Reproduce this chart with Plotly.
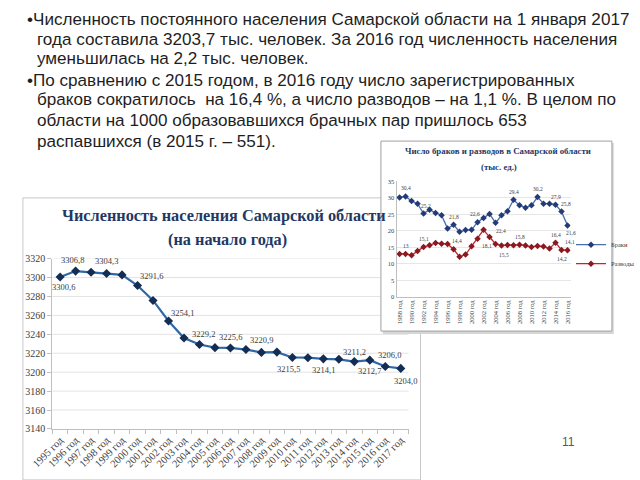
import plotly.graph_objects as go

W, H = 640, 480


def fx(p):
    return p / W


def fy(p):
    return 1 - p / H


# ---------------- data ----------------
pop_years = ["1995 год", "1996 год", "1997 год", "1998 год", "1999 год", "2000 год",
             "2001 год", "2002 год", "2003 год", "2004 год", "2005 год", "2006 год",
             "2007 год", "2008 год", "2009 год", "2010 год", "2011 год", "2012 год",
             "2013 год", "2014 год", "2015 год", "2016 год", "2017 год"]
population = [3300.6, 3306.8, 3305.5, 3304.3, 3302.8, 3291.6, 3275.8, 3254.1, 3236.1,
              3229.2, 3225.9, 3225.6, 3223.9, 3220.9, 3221.2, 3215.5, 3215.3, 3214.1,
              3213.6, 3211.2, 3212.7, 3206.0, 3204.0]
pop_ticks = [3140, 3160, 3180, 3200, 3220, 3240, 3260, 3280, 3300, 3320]
# index -> (xshift, yshift) for shown data labels
pop_labels = {0: (3, -10), 1: (-3, 11), 3: (0, 12), 5: (14, 9), 7: (14, 8), 9: (4, 11),
              11: (0, 11), 13: (0, 12), 15: (-4, -11), 17: (0, -11), 19: (0, 10),
              20: (0, -11), 21: (4, 12), 22: (5, -13)}

mar_years = ["1988 год", "1989 год", "1990 год", "1991 год", "1992 год", "1993 год",
             "1994 год", "1995 год", "1996 год", "1997 год", "1998 год", "1999 год",
             "2000 год", "2001 год", "2002 год", "2003 год", "2004 год", "2005 год",
             "2006 год", "2007 год", "2008 год", "2009 год", "2010 год", "2011 год",
             "2012 год", "2013 год", "2014 год", "2015 год", "2016 год"]
marriages = [30.1, 30.4, 29.0, 28.2, 25.2, 26.4, 25.4, 24.7, 20.7, 21.8, 19.7, 20.2,
             20.3, 22.6, 23.9, 25.1, 22.4, 24.7, 25.9, 29.4, 27.7, 27.0, 27.7, 30.2,
             28.2, 28.2, 27.9, 25.8, 21.6]
divorces = [13.0, 13.0, 12.6, 13.9, 15.1, 15.6, 16.3, 16.1, 16.0, 14.4, 12.1, 12.8,
            15.3, 17.6, 20.3, 18.1, 16.0, 15.5, 15.7, 15.6, 15.8, 15.5, 15.1, 15.4,
            15.2, 14.6, 16.4, 14.2, 14.1]
mar_ticks = [0, 5, 10, 15, 20, 25, 30, 35]
mar_labels = {1: (0, 8), 4: (2, 8), 9: (0, 8), 13: (-3, 8), 16: (5, -8), 19: (0, 8),
              23: (0, 8), 26: (0, 8), 27: (4, 8), 28: (3, -8)}
div_labels = {1: (0, 8), 4: (0, 8), 9: (3, 8), 15: (-3, -9), 17: (2, -9), 20: (0, 8),
              26: (0, 8), 27: (0, -9), 28: (2, 8)}

slide_lines = [
    ("•Численность постоянного населения Самарской области на 1 января 2017", 3, 15),
    ("года составила 3203,7 тыс. человек. За 2016 год численность населения", 14, 35),
    ("уменьшилась на 2,2 тыс. человек.", 14, 55),
    ("•По сравнению с 2015 годом, в 2016 году число зарегистрированных", 3, 77),
    ("браков сократилось \u00a0на 16,4 %, а число разводов – на 1,1 %. В целом по", 14, 97),
    ("области на 1000 образовавшихся брачных пар пришлось 653", 14, 118),
    ("распавшихся (в 2015 г. – 551).", 14, 139),
]


def fmt(v):
    if abs(v - round(v)) < 1e-9 and v < 20:
        return str(int(round(v)))
    return f"{v:.1f}".replace(".", ",")


SERIF = "Liberation Serif, Times New Roman, serif"
SANS = "Liberation Sans, Arial, sans-serif"
NAVY = "#1f3864"
TXT = "#404040"

fig = go.Figure()

fig.add_trace(go.Scatter(
    x=pop_years, y=population, mode="lines+markers", xaxis="x", yaxis="y",
    line=dict(color="#2f68a6", width=2.2),
    marker=dict(symbol="diamond", size=7, color="#132d55"),
    showlegend=False, hoverinfo="skip"))

fig.add_trace(go.Scatter(
    x=mar_years, y=marriages, mode="lines+markers", xaxis="x2", yaxis="y2",
    name="Браки", line=dict(color="#4a6dab", width=1.3),
    marker=dict(symbol="diamond", size=5, color="#233b77"), hoverinfo="skip"))
fig.add_trace(go.Scatter(
    x=mar_years, y=divorces, mode="lines+markers", xaxis="x2", yaxis="y2",
    name="Разводы", line=dict(color="#c3262c", width=1.3),
    marker=dict(symbol="diamond", size=5, color="#8a1a20"), hoverinfo="skip"))

ann = []
for i, (dx, dy) in pop_labels.items():
    ann.append(dict(x=pop_years[i], y=population[i], xref="x", yref="y",
                    text=fmt(population[i]), showarrow=False, xshift=dx, yshift=dy,
                    font=dict(family=SERIF, size=8.5, color=TXT)))
for i, (dx, dy) in mar_labels.items():
    ann.append(dict(x=mar_years[i], y=marriages[i], xref="x2", yref="y2",
                    text=fmt(marriages[i]), showarrow=False, xshift=dx, yshift=dy,
                    font=dict(family=SERIF, size=5.5, color=TXT)))
for i, (dx, dy) in div_labels.items():
    ann.append(dict(x=mar_years[i], y=divorces[i], xref="x2", yref="y2",
                    text=fmt(divorces[i]), showarrow=False, xshift=dx, yshift=dy,
                    font=dict(family=SERIF, size=5.5, color=TXT)))

for text, x, y in slide_lines:
    ann.append(dict(x=fx(x), y=fy(y), xref="paper", yref="paper", text=text,
                    showarrow=False, xanchor="left", yanchor="middle",
                    font=dict(family=SANS, size=17.1, color="#1e1e1e")))

ann.append(dict(x=fx(220), y=fy(215), xref="paper", yref="paper",
                text="<b>Численность населения Самарской области</b>", showarrow=False,
                xanchor="center", yanchor="middle", font=dict(family=SERIF, size=16.3, color=NAVY)))
ann.append(dict(x=fx(223), y=fy(239), xref="paper", yref="paper",
                text="<b>(на начало года)</b>", showarrow=False,
                xanchor="center", yanchor="middle", font=dict(family=SERIF, size=16.3, color=NAVY)))
ann.append(dict(x=fx(517), y=fy(149), xref="paper", yref="paper",
                text="<b>Число браков и разводов в Самарской области</b>", showarrow=False,
                xanchor="center", yanchor="middle", font=dict(family=SERIF, size=8.8, color=NAVY)))
ann.append(dict(x=fx(518), y=fy(165), xref="paper", yref="paper",
                text="<b>(тыс. ед.)</b>", showarrow=False,
                xanchor="center", yanchor="middle", font=dict(family=SERIF, size=8.8, color=NAVY)))
ann.append(dict(x=fx(594), y=fy(446), xref="paper", yref="paper", text="11",
                showarrow=False, xanchor="center", yanchor="middle",
                font=dict(family=SANS, size=12, color="#595959")))

shapes = []
# main chart frame
shapes.append(dict(type="rect", xref="paper", yref="paper", x0=fx(1), x1=fx(433),
                   y0=fy(485), y1=fy(197), line=dict(color="#c8c8c8", width=1),
                   fillcolor="white", layer="below"))
# main gridlines
for t in pop_ticks[1:]:
    shapes.append(dict(type="line", xref="paper", yref="y", x0=fx(33), x1=fx(420),
                       y0=t, y1=t, line=dict(color="#e3e3e3", width=1), layer="below"))
# inset frame with shadow
shapes.append(dict(type="rect", xref="paper", yref="paper", x0=fx(392), x1=fx(643),
                   y0=fy(336), y1=fy(141), line=dict(width=0),
                   fillcolor="#d6d6d6", layer="below"))
shapes.append(dict(type="rect", xref="paper", yref="paper", x0=fx(390), x1=fx(641),
                   y0=fy(333), y1=fy(139), line=dict(color="#a0a0a0", width=1),
                   fillcolor="white", layer="below"))

fig.update_layout(
    width=W, height=H, margin=dict(l=0, r=0, t=0, b=0),
    paper_bgcolor="white", plot_bgcolor="rgba(0,0,0,0)",
    annotations=ann, shapes=shapes,
    xaxis=dict(domain=[fx(33), fx(420)], anchor="y", type="category",
               range=[-0.5, len(pop_years) - 0.5], tickangle=-45,
               tickfont=dict(family=SERIF, size=10.5, color=TXT),
               showline=True, linecolor="#bfbfbf", ticks="outside", tickson="boundaries",
               ticklen=4, tickcolor="#bfbfbf", showgrid=False, zeroline=False, fixedrange=True),
    yaxis=dict(domain=[fy(433), fy(259)], anchor="x", range=[3140, 3320],
               tickvals=pop_ticks, ticktext=[str(t) for t in pop_ticks],
               tickfont=dict(family=SERIF, size=10, color=TXT),
               showline=True, linecolor="#bfbfbf", ticks="outside", ticklen=4,
               tickcolor="#bfbfbf", showgrid=False, zeroline=False, fixedrange=True),
    xaxis2=dict(domain=[fx(407), fx(596)], anchor="y2", type="category",
                range=[-0.5, len(mar_years) - 0.5], tickangle=-90,
                tickfont=dict(family=SERIF, size=6.5, color=TXT),
                showline=True, linecolor="#bfbfbf", ticks="", showgrid=False,
                zeroline=False, fixedrange=True),
    yaxis2=dict(domain=[fy(298), fy(180)], anchor="x2", range=[0, 35],
                tickvals=mar_ticks, ticktext=[str(t) for t in mar_ticks],
                tickfont=dict(family=SERIF, size=6.5, color=TXT),
                showline=True, linecolor="#bfbfbf", showgrid=True, gridcolor="#e6e6e6",
                zeroline=False, fixedrange=True),
    showlegend=True,
    legend=dict(x=fx(597), y=fy(230), xanchor="left", yanchor="top",
                font=dict(family=SERIF, size=6.5, color=TXT), itemwidth=30,
                bgcolor="rgba(0,0,0,0)", tracegroupgap=0),
)

fig.write_html("out.html")
